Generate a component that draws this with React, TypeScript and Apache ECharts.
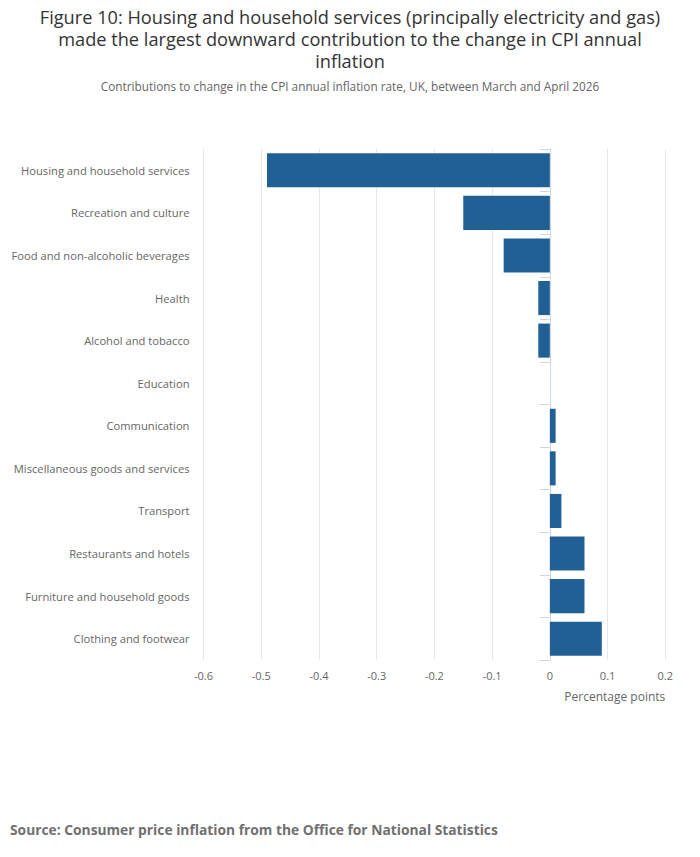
import React, { useEffect, useRef } from "react";
import * as echarts from "echarts";

const categories = [
  "Housing and household services",
  "Recreation and culture",
  "Food and non-alcoholic beverages",
  "Health",
  "Alcohol and tobacco",
  "Education",
  "Communication",
  "Miscellaneous goods and services",
  "Transport",
  "Restaurants and hotels",
  "Furniture and household goods",
  "Clothing and footwear",
];
const values = [-0.49, -0.15, -0.08, -0.02, -0.02, 0, 0.01, 0.01, 0.02, 0.06, 0.06, 0.09];

const titleLines = [
  "Figure 10: Housing and household services (principally electricity and gas)",
  "made the largest downward contribution to the change in CPI annual",
  "inflation",
];
const subtitleText = "Contributions to change in the CPI annual inflation rate, UK, between March and April 2026";
const sourceText = "Source: Consumer price inflation from the Office for National Statistics";
const axisName = "Percentage points";

const FONT = "'Open Sans', 'Noto Sans', sans-serif";

export default function App() {
  const ref = useRef<HTMLDivElement>(null);
  useEffect(() => {
    if (!ref.current) return;
    const chart = echarts.init(ref.current, undefined, { renderer: "svg" });
    chart.setOption({
      animation: false,
      backgroundColor: "#ffffff",
      textStyle: { fontFamily: FONT },
      graphic: [
        {
          type: "text",
          x: 350,
          y: 6,
          style: {
            text: titleLines.join("\n"),
            fontFamily: FONT,
            fontSize: 18.2,
            lineHeight: 22,
            fill: "#333333",
            textAlign: "center",
            textVerticalAlign: "top",
          },
        },
        {
          type: "text",
          x: 350,
          y: 85.5,
          style: {
            text: subtitleText,
            fontFamily: FONT,
            fontSize: 11.8,
            fill: "#666666",
            textAlign: "center",
            textVerticalAlign: "middle",
          },
        },
        {
          type: "text",
          x: 10,
          y: 829,
          style: {
            text: sourceText,
            fontFamily: FONT,
            fontSize: 13.8,
            fontWeight: "bold",
            fill: "#707070",
            textAlign: "left",
            textVerticalAlign: "middle",
          },
        },
      ],
      grid: { left: 203.5, right: 34.7, top: 149, bottom: 197, containLabel: false },
      xAxis: {
        type: "value",
        min: -0.6,
        max: 0.2,
        interval: 0.1,
        name: axisName,
        nameLocation: "end",
        nameGap: 0,
        nameTextStyle: {
          fontFamily: FONT,
          fontSize: 12,
          color: "#666666",
          align: "right",
          verticalAlign: "top",
          padding: [30, 0, 0, 0],
        },
        axisLine: { show: false },
        axisTick: { show: false },
        axisLabel: {
          fontFamily: FONT,
          fontSize: 11,
          color: "#666666",
          margin: 10,
          formatter: (v: number) => String(Math.round(v * 10) / 10),
        },
        splitLine: { show: true, lineStyle: { color: "#e6e6e6", width: 1 } },
      },
      yAxis: {
        type: "category",
        data: categories,
        inverse: true,
        axisLine: { show: true, lineStyle: { color: "#ccd6eb", width: 1 } },
        axisTick: { show: true, length: 10, lineStyle: { color: "#ccd6eb" } },
        axisLabel: { fontFamily: FONT, fontSize: 11.2, color: "#666666", margin: 14 },
        splitLine: { show: false },
      },
      series: [
        {
          type: "bar",
          data: values,
          barCategoryGap: "20%",
          itemStyle: { color: "#206095" },
        },
      ],
    });
    return () => chart.dispose();
  }, []);
  return (
    <div
      ref={ref}
      style={{ position: "absolute", left: 0, top: 0, width: 700, height: 857 }}
    />
  );
}
